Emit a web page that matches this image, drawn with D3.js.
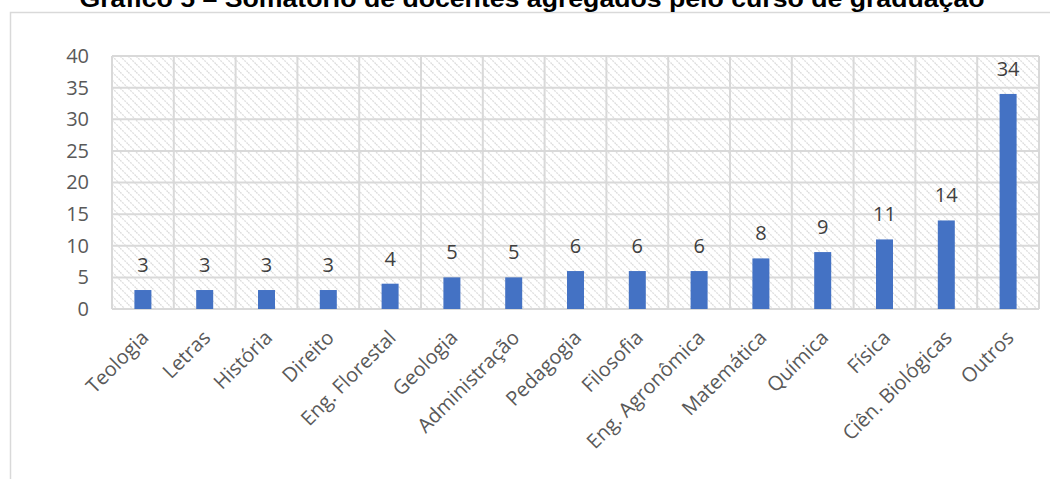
<!DOCTYPE html>
<html>
<head>
<meta charset="utf-8">
<script src="https://cdn.jsdelivr.net/npm/d3@7"></script>
<style>
  body { margin: 0; background: #fff; }
  svg { display: block; }
</style>
</head>
<body>
<svg id="chart" width="1050" height="479"></svg>
<script>
var title = 'Gráfico 5 – Somatório de docentes agregados pelo curso de graduação';
var cursos = ['Teologia', 'Letras', 'História', 'Direito', 'Eng. Florestal', 'Geologia',
  'Administração', 'Pedagogia', 'Filosofia', 'Eng. Agronômica', 'Matemática', 'Química',
  'Física', 'Ciên. Biológicas', 'Outros'];
var docentes = [3, 3, 3, 3, 4, 5, 5, 6, 6, 6, 8, 9, 11, 14, 34];
var yTicks = [0, 5, 10, 15, 20, 25, 30, 35, 40];

var svg = d3.select('#chart');
var font = '"Open Sans", sans-serif';
var textColor = '#595959';
var gridColor = '#d9d9d9';

var plot = {left: 112, right: 1039, top: 56, bottom: 309};

// hatch fill of the plot area
var defs = svg.append('defs');
defs.append('pattern')
  .attr('id', 'hatch')
  .attr('patternUnits', 'userSpaceOnUse')
  .attr('width', 8)
  .attr('height', 8)
  .call(function(p) {
    p.append('rect').attr('width', 8).attr('height', 8).attr('fill', '#fff');
    p.append('path')
      .attr('d', 'M-2,-2 L10,10 M-2,6 L2,10 M6,-2 L10,2')
      .attr('stroke', '#dedede')
      .attr('stroke-width', 1.3)
      .attr('stroke-dasharray', '2,1');
  });

// outer frame
svg.append('rect')
  .attr('x', 10.5).attr('y', 12.5)
  .attr('width', 1100).attr('height', 600)
  .attr('fill', 'none')
  .attr('stroke', '#d9d9d9')
  .attr('stroke-width', 1.5);

// title, cut at the top edge as in the source
svg.append('text')
  .attr('x', 532)
  .attr('y', 7)
  .attr('text-anchor', 'middle')
  .attr('font-family', 'Arial, "Liberation Sans", sans-serif')
  .attr('font-weight', 'bold')
  .attr('font-size', 23)
  .attr('textLength', 905)
  .attr('lengthAdjust', 'spacingAndGlyphs')
  .attr('fill', '#000')
  .text(title);

var x = d3.scaleBand()
  .domain(cursos)
  .range([plot.left, plot.right])
  .paddingInner(0)
  .paddingOuter(0);

var y = d3.scaleLinear()
  .domain([0, 40])
  .range([plot.bottom, plot.top]);

svg.append('rect')
  .attr('x', plot.left).attr('y', plot.top)
  .attr('width', plot.right - plot.left)
  .attr('height', plot.bottom - plot.top)
  .attr('fill', 'url(#hatch)');

// gridlines
var grid = svg.append('g').attr('stroke', gridColor).attr('stroke-width', 2);
grid.selectAll('line.h')
  .data(yTicks)
  .enter().append('line')
  .attr('class', 'h')
  .attr('x1', plot.left).attr('x2', plot.right)
  .attr('y1', function(d) { return y(d); })
  .attr('y2', function(d) { return y(d); });
grid.selectAll('line.v')
  .data(cursos.concat(['end']))
  .enter().append('line')
  .attr('class', 'v')
  .attr('x1', function(d, i) { return plot.left + i * x.bandwidth(); })
  .attr('x2', function(d, i) { return plot.left + i * x.bandwidth(); })
  .attr('y1', plot.top).attr('y2', plot.bottom);

// y axis labels
var yAxis = d3.axisLeft(y).tickValues(yTicks).tickSize(0).tickPadding(23);
svg.append('g')
  .attr('transform', 'translate(' + plot.left + ',0)')
  .call(yAxis)
  .call(function(g) {
    g.select('.domain').remove();
    g.selectAll('text')
      .attr('font-family', font)
      .attr('font-size', 20)
      .attr('fill', textColor);
  });

// bars
var barW = 17;
svg.append('g').selectAll('rect')
  .data(docentes)
  .enter().append('rect')
  .attr('x', function(d, i) { return x(cursos[i]) + x.bandwidth() / 2 - barW / 2; })
  .attr('y', function(d) { return y(d); })
  .attr('width', barW)
  .attr('height', function(d) { return y(0) - y(d); })
  .attr('fill', '#4472c4');

// data labels
svg.append('g').selectAll('text')
  .data(docentes)
  .enter().append('text')
  .attr('x', function(d, i) { return x(cursos[i]) + x.bandwidth() / 2; })
  .attr('y', function(d) { return y(d) - 18; })
  .attr('text-anchor', 'middle')
  .attr('font-family', font)
  .attr('font-size', 20)
  .attr('fill', '#404040')
  .text(function(d) { return d; });

// x axis labels, rotated
var xAxis = d3.axisBottom(x).tickSize(0).tickPadding(0);
svg.append('g')
  .attr('transform', 'translate(0,' + plot.bottom + ')')
  .call(xAxis)
  .call(function(g) {
    g.select('.domain').remove();
    g.selectAll('text')
      .attr('font-family', font)
      .attr('font-size', 20)
      .attr('fill', textColor)
      .attr('text-anchor', 'end')
      .attr('dy', 0)
      .attr('transform', 'translate(7,30) rotate(-45)');
  });
</script>
</body>
</html>
